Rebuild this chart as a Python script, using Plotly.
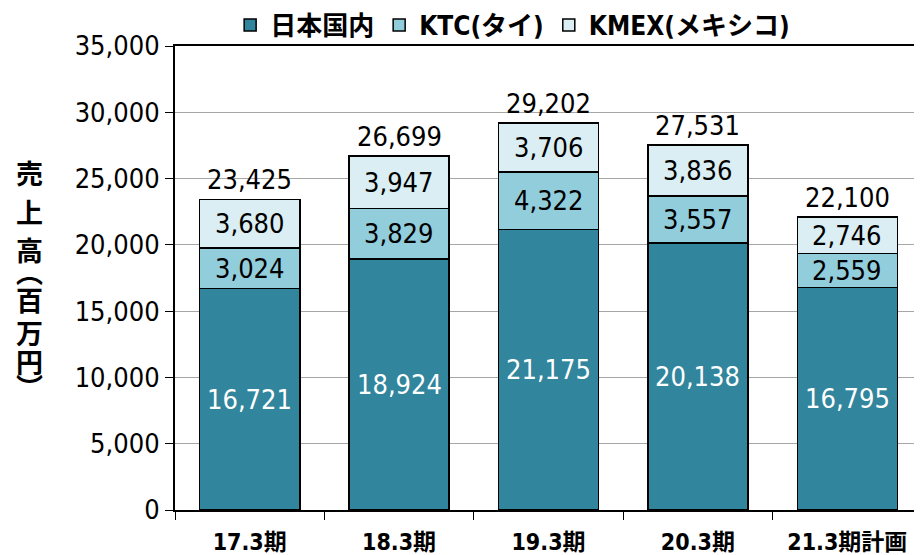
import plotly.graph_objects as go

periods = ['17.3期', '18.3期', '19.3期', '20.3期', '21.3期計画']
japan = [16721, 18924, 21175, 20138, 16795]
ktc = [3024, 3829, 4322, 3557, 2559]
kmex = [3680, 3947, 3706, 3836, 2746]
totals = [23425, 26699, 29202, 27531, 22100]

y_title_chars = list('売上高︵百万円︶')

NUM_FONT = 'DejaVu Sans Condensed, Noto Sans CJK JP, sans-serif'
JP_FONT = 'DejaVu Sans Condensed, Noto Sans CJK JP, sans-serif'

# page has an 8px body margin, so the figure is sized to fit the window
W, H = 914, 547
M_L, M_R, M_T, M_B = 167, 0, 38, 45
PLOT_W = W - M_L - M_R
PLOT_H = H - M_T - M_B

series = [
    ('日本国内', japan, '#31859C', 'white'),
    ('KTC(タイ)', ktc, '#92CDDC', 'black'),
    ('KMEX(メキシコ)', kmex, '#DAEEF3', 'black'),
]

fig = go.Figure()
for name, vals, color, _ in series:
    fig.add_trace(go.Bar(
        x=periods, y=vals, name=name,
        marker=dict(color=color, line=dict(color='black', width=1.5)),
    ))

# segment labels
base = [0] * len(periods)
for name, vals, color, tcolor in series:
    for i, v in enumerate(vals):
        fig.add_annotation(
            x=periods[i], y=base[i] + v / 2, text=f'{v:,}',
            showarrow=False, font=dict(family=NUM_FONT, size=27, color=tcolor),
        )
        base[i] += v

# totals
for i, t in enumerate(totals):
    fig.add_annotation(
        x=periods[i], y=base[i], text=f'{t:,}', yanchor='bottom',
        showarrow=False, yshift=2,
        font=dict(family=NUM_FONT, size=27, color='black'),
    )

# vertical y-axis title, one character per line (page pixel positions)
char_y = [173, 211, 249, 271, 299, 332, 361, 386]
for ch, py in zip(y_title_chars, char_y):
    fig.add_annotation(
        xref='paper', yref='paper', xanchor='center', yanchor='middle',
        x=(29 - 8 - M_L) / PLOT_W, y=(8 + H - M_B - py) / PLOT_H,
        text=ch, showarrow=False,
        font=dict(family='Noto Sans CJK JP', size=27, color='black', weight='bold'),
    )

fig.update_layout(
    barmode='stack',
    bargap=0.33,
    width=W, height=H,
    margin=dict(l=M_L, r=M_R, t=M_T, b=M_B, autoexpand=False),
    plot_bgcolor='white',
    paper_bgcolor='white',
    showlegend=True,
    legend=dict(
        orientation='h', x=0.452, xanchor='center', y=1.045, yanchor='middle',
        bgcolor='rgba(0,0,0,0)',
        font=dict(family=JP_FONT, size=26, color='black', weight='bold'),
        itemwidth=30, traceorder='normal', tracegroupgap=0,
    ),
    xaxis=dict(
        type='category', tickson='boundaries', ticks='outside', ticklen=8,
        tickcolor='black', showline=True, linecolor='black', linewidth=2,
        mirror=True, showgrid=False, automargin=False, ticklabelstandoff=10,
        tickfont=dict(family=JP_FONT, size=23, color='black', weight='bold'),
    ),
    yaxis=dict(
        range=[0, 35000], dtick=5000, tickformat=',d',
        ticks='outside', ticklen=8, tickcolor='black',
        showline=True, linecolor='black', linewidth=2,
        showgrid=True, gridcolor='#A6A6A6', gridwidth=1, automargin=False,
        tickfont=dict(family=NUM_FONT, size=27, color='black'),
        zeroline=False,
    ),
)

fig.write_html('out.html')
